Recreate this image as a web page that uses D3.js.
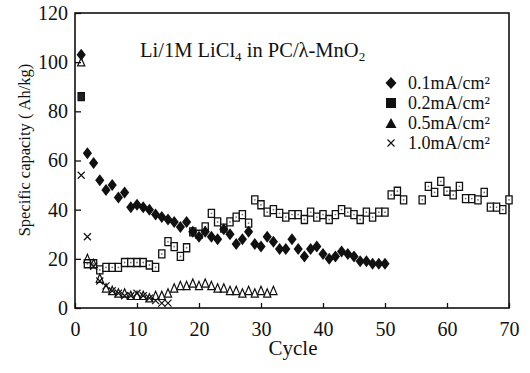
<!DOCTYPE html>
<html>
<head>
<meta charset="utf-8">
<script src="https://cdn.jsdelivr.net/npm/d3@7"></script>
<style>
  body { margin: 0; background: #fff; }
  svg text { font-family: "Liberation Serif", "DejaVu Serif", serif; fill: #111; }
</style>
</head>
<body>
<svg id="chart" width="530" height="373"></svg>
<script>
// data (cycle, capacity Ah/kg)
const xTicks = [0, 10, 20, 30, 40, 50, 60, 70];
const yTicks = [0, 20, 40, 60, 80, 100, 120];

// 0.1 mA/cm2, cycles 1..50
const cap01 = [103, 63, 59, 52, 48, 50, 45, 47, 41, 42, 41, 40, 38, 37, 36, 35, 33, 35, 31, 29,
  31, 29, 28, 32, 30, 26, 28, 31, 26, 25, 29, 27, 24, 24, 28, 24, 21, 24, 25, 22,
  20, 21, 23, 22, 21, 19, 19, 18, 18, 18];
// 0.2 mA/cm2, cycles 1..70 (null = no point)
const cap02 = [86, 18, 18, 15.5, 16.5, 16.5, 16.5, 18.5, 18.5, 18.5, 18.5, 17.5, 16.5, 22, 27, 25, 21, 24.5, 31, 30,
  33, 38.5, 35, 32.5, 35, 37, 38, 34.5, 44, 42, 39, 40, 38.5, 37, 38, 38, 36, 39, 37, 38,
  36, 38, 40, 39, 38, 36, 39, 37, 39, 39, 46, 47.5, 44, null, null, 44, 49.5, 47, 51.5, 47.5,
  46, 49.5, 44.5, 44.5, 44, 47, 41, 41, 40, 44];
// 0.5 mA/cm2, cycles 1..32
const cap05 = [100, 20, 18, 12, 8, 7, 6, 6, 5, 5, 5, 4, 5, 5, 6, 8, 9, 9, 10, 9,
  10, 9, 8, 8, 7, 7, 6, 7, 6, 7, 6, 7];
// 1.0 mA/cm2, cycles 1..15
const cap10 = [54, 29, 17, 11, 9, 7, 6, 5, 5, 6, 5, 4, 3, 2, 2];

const seriesLabels = ['0.1mA/cm²', '0.2mA/cm²', '0.5mA/cm²', '1.0mA/cm²'];
const titleText = 'Li/1M LiCl';

const svg = d3.select('#chart');
const m = { left: 75, right: 509, top: 13, bottom: 308 };

const x = d3.scaleLinear().domain([0, 70]).range([m.left, m.right]);
const y = d3.scaleLinear().domain([0, 120]).range([m.bottom, m.top]);

const pts = (arr) => arr.map((v, i) => ({ c: i + 1, v: v })).filter((d) => d.v !== null);

// marker paths centred at 0,0
const diamondPath = 'M0,-6L4.6,0L0,6L-4.6,0Z';
const squarePath = 'M-3.1,-4H3.1V4H-3.1Z';
const trianglePath = 'M0,-4.5L3.6,3.8H-3.6Z';
const crossPath = 'M-3.5,-3.5L3.5,3.5M3.5,-3.5L-3.5,3.5';

// frame
svg.append('rect')
  .attr('x', m.left).attr('y', m.top)
  .attr('width', m.right - m.left).attr('height', m.bottom - m.top)
  .attr('fill', 'none').attr('stroke', '#111').attr('stroke-width', 1.6);

// x axis (ticks inward)
const xAxis = svg.append('g')
  .attr('transform', `translate(0,${m.bottom})`)
  .call(d3.axisBottom(x).tickValues(xTicks).tickSizeInner(-5).tickSizeOuter(0).tickPadding(14));
xAxis.select('.domain').remove();
xAxis.selectAll('line').attr('stroke', '#111').attr('stroke-width', 1.3);
xAxis.selectAll('text').style('font-size', '20px').attr('fill', '#111')
  .style('font-family', '"Liberation Serif", serif');

// y axis (ticks inward)
const yAxis = svg.append('g')
  .attr('transform', `translate(${m.left},0)`)
  .call(d3.axisLeft(y).tickValues(yTicks).tickSizeInner(-6).tickSizeOuter(0).tickPadding(7));
yAxis.select('.domain').remove();
yAxis.selectAll('line').attr('stroke', '#111').attr('stroke-width', 1.3);
yAxis.selectAll('text').style('font-size', '20px').attr('fill', '#111')
  .style('font-family', '"Liberation Serif", serif');

// axis titles
svg.append('text')
  .attr('x', (m.left + m.right) / 2 + 1).attr('y', 355)
  .attr('text-anchor', 'middle').style('font-size', '21px')
  .text('Cycle');

svg.append('text')
  .attr('transform', 'translate(30,150) rotate(-90)')
  .attr('text-anchor', 'middle').style('font-size', '16.5px')
  .text('Specific capacity ( Ah/kg)');

// chart caption
const t = svg.append('text').attr('x', 140).attr('y', 57).style('font-size', '20.5px');
t.append('tspan').text(titleText);
t.append('tspan').attr('dy', 4).style('font-size', '13px').text('4');
t.append('tspan').attr('dy', -4).text(' in PC/λ-MnO');
t.append('tspan').attr('dy', 4).style('font-size', '13px').text('2');

// series
const plot = svg.append('g');

plot.selectAll('.s02').data(pts(cap02)).join('path')
  .attr('class', 's02')
  .attr('transform', (d) => `translate(${x(d.c)},${y(d.v)})`)
  .attr('d', squarePath)
  .attr('fill', (d) => (d.c === 1 ? '#222' : '#fff'))
  .attr('stroke', '#111').attr('stroke-width', 1.3);
plot.selectAll('.s02dot').data(pts(cap02).filter((d) => d.c > 1)).join('circle')
  .attr('class', 's02dot')
  .attr('cx', (d) => x(d.c)).attr('cy', (d) => y(d.v)).attr('r', 0.9)
  .attr('fill', '#777');

plot.selectAll('.s05').data(pts(cap05)).join('path')
  .attr('class', 's05')
  .attr('transform', (d) => `translate(${x(d.c)},${y(d.v)})`)
  .attr('d', trianglePath)
  .attr('fill', 'none')
  .attr('stroke', '#111').attr('stroke-width', 1.2);

plot.selectAll('.s10').data(pts(cap10)).join('path')
  .attr('class', 's10')
  .attr('transform', (d) => `translate(${x(d.c)},${y(d.v)})`)
  .attr('d', crossPath)
  .attr('fill', 'none')
  .attr('stroke', '#111').attr('stroke-width', 1.2);

plot.selectAll('.s01').data(pts(cap01)).join('path')
  .attr('class', 's01')
  .attr('transform', (d) => `translate(${x(d.c)},${y(d.v)})`)
  .attr('d', diamondPath)
  .attr('fill', '#111');

// legend
const legendSymbols = [
  { d: 'M0,-6L5.5,0L0,6L-5.5,0Z', fill: '#111', stroke: 'none' },
  { d: 'M-5,-5H5V5H-5Z', fill: '#111', stroke: 'none' },
  { d: 'M0,-5L5.5,5H-5.5Z', fill: '#111', stroke: 'none' },
  { d: crossPath, fill: 'none', stroke: '#111' },
];
const legend = svg.append('g').attr('transform', 'translate(391,83)');
seriesLabels.forEach((lab, i) => {
  const row = legend.append('g').attr('transform', `translate(0,${i * 20})`);
  row.append('path')
    .attr('d', legendSymbols[i].d)
    .attr('fill', legendSymbols[i].fill)
    .attr('stroke', legendSymbols[i].stroke).attr('stroke-width', 1.2);
  row.append('text').attr('x', 17).attr('y', 6).style('font-size', '18px').text(lab);
});
</script>
</body>
</html>
